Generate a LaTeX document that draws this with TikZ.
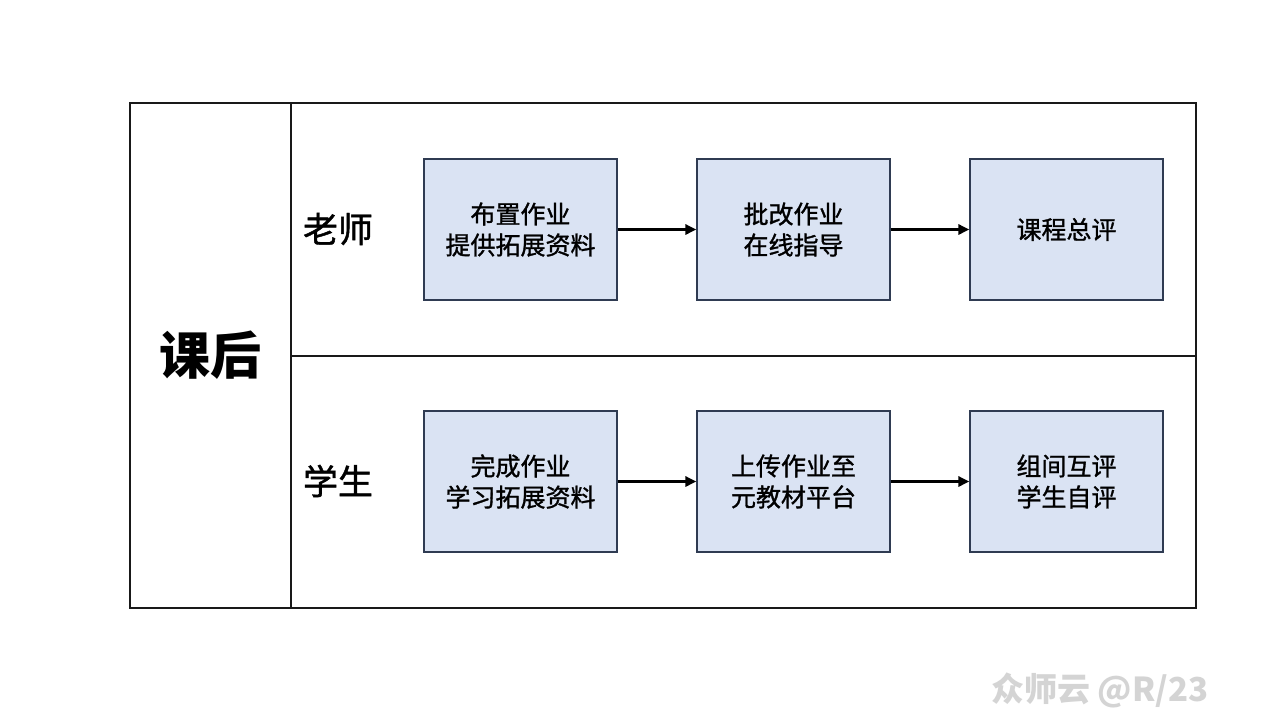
\documentclass[tikz,border=0pt]{standalone}
\usepackage{fontspec}
\newfontfamily\cjk{Noto Sans CJK SC}
\newfontfamily\cjkm[FakeBold=1.2]{Noto Sans CJK SC}
\usetikzlibrary{arrows.meta}
\definecolor{boxfill}{HTML}{DAE3F3}
\definecolor{boxline}{HTML}{2F3B52}
\definecolor{wm}{HTML}{D4D4D4}
\begin{document}
\begin{tikzpicture}[x=1pt,y=-1pt,
  stepbox/.style={draw=boxline,line width=1.2pt,fill=boxfill,minimum width=193pt,minimum height=141pt,inner sep=0pt,align=center,font=\cjkm\fontsize{25}{31}\selectfont},
  flow/.style={line width=3pt,-{Triangle[length=11pt,width=10pt]}},
  grid/.style={line width=1.2pt,draw=black!90}]
\useasboundingbox (0,0) rectangle (1267,713);
\fill[white] (0,0) rectangle (1267,713);
% table
\coordinate (tl) at (130,103);
\coordinate (br) at (1196,608);
\draw[grid] (tl) rectangle (br);
\coordinate (vt) at (291,103);
\coordinate (vb) at (291,608);
\draw[grid] (vt) -- (vb);
\coordinate (hl) at (291,356);
\coordinate (hr) at (1196,356);
\draw[grid] (hl) -- (hr);
% labels
\node[font=\cjk\bfseries\fontsize{51}{56}\selectfont] (kh) at (210.5,355) {课后};
\node[font=\cjkm\fontsize{35}{40}\selectfont] (ls) at (338,229) {老师};
\node[font=\cjkm\fontsize{35}{40}\selectfont] (xs) at (338,481) {学生};
% boxes
\node[stepbox] (a1) at (520.5,229.5) {布置作业\\提供拓展资料};
\node[stepbox] (a2) at (793.5,229.5) {批改作业\\在线指导};
\node[stepbox] (a3) at (1066.5,229.5) {课程总评};
\node[stepbox] (b1) at (520.5,481.5) {完成作业\\学习拓展资料};
\node[stepbox] (b2) at (793.5,481.5) {上传作业至\\元教材平台};
\node[stepbox] (b3) at (1066.5,481.5) {组间互评\\学生自评};
\draw[flow] (a1) -- (a2);
\draw[flow] (a2) -- (a3);
\draw[flow] (b1) -- (b2);
\draw[flow] (b2) -- (b3);
% watermark
\node[font=\cjk\bfseries\fontsize{33}{38}\selectfont,text=wm,anchor=east] (w) at (1212,690) {众师云 @R/23};
\end{tikzpicture}
\end{document}
